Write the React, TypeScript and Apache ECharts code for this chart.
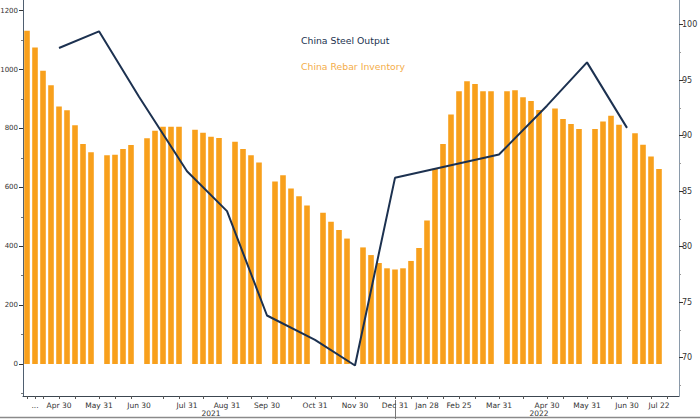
import React, { useEffect, useRef } from 'react';
import * as echarts from 'echarts';

// weekly slots (Fridays) plus the month-end dates where only the monthly series reports
const weeks = [
  '2021-04-02', '2021-04-09', '2021-04-16', '2021-04-23', '2021-04-30', '2021-05-07', '2021-05-14', '2021-05-21', '2021-05-28', '2021-05-31',
  '2021-06-04', '2021-06-11', '2021-06-18', '2021-06-25', '2021-06-30', '2021-07-02', '2021-07-09', '2021-07-16', '2021-07-23', '2021-07-30',
  '2021-07-31', '2021-08-06', '2021-08-13', '2021-08-20', '2021-08-27', '2021-08-31', '2021-09-03', '2021-09-10', '2021-09-17', '2021-09-24',
  '2021-09-30', '2021-10-01', '2021-10-08', '2021-10-15', '2021-10-22', '2021-10-29', '2021-10-31', '2021-11-05', '2021-11-12', '2021-11-19',
  '2021-11-26', '2021-11-30', '2021-12-03', '2021-12-10', '2021-12-17', '2021-12-24', '2021-12-31', '2022-01-07', '2022-01-14', '2022-01-21',
  '2022-01-28', '2022-02-04', '2022-02-11', '2022-02-18', '2022-02-25', '2022-03-04', '2022-03-11', '2022-03-18', '2022-03-25', '2022-03-31',
  '2022-04-01', '2022-04-08', '2022-04-15', '2022-04-22', '2022-04-29', '2022-04-30', '2022-05-06', '2022-05-13', '2022-05-20', '2022-05-27',
  '2022-05-31', '2022-06-03', '2022-06-10', '2022-06-17', '2022-06-24', '2022-06-30', '2022-07-01', '2022-07-08', '2022-07-15', '2022-07-22',
  '2022-07-29', '2022-07-31',
];

// China rebar inventory (10k tonnes), null where the slot is a month-end only
const rebarInventory = [
  1132, 1075, 996, 947, 875, 862, 811, 747, 719, null,
  709, 711, 730, 744, null, 767, 792, 806, 806, 806,
  null, 796, 785, 772, 768, null, 755, 730, 709, 684,
  null, 620, 641, 596, 570, 538, null, 514, 483, 455,
  426, null, 396, 370, 343, 325, 321, 325, 350, 394,
  487, 663, 747, 847, 926, 960, 951, 926, 926, null,
  926, 930, 906, 893, 863, null, 868, 832, 815, 798,
  null, 798, 824, 843, 813, null, 784, 745, 705, 662,
  null, null,
];

// China steel output (monthly, mn tonnes)
const outputDates = [
  '2021-04-30', '2021-05-31', '2021-06-30', '2021-07-31', '2021-08-31', '2021-09-30', '2021-10-31',
  '2021-11-30', '2021-12-31', '2022-03-31', '2022-04-30', '2022-05-31', '2022-06-30',
];
const outputValues = [97.9, 99.4, 93.5, 86.8, 83.2, 73.8, 71.6, 69.3, 86.2, 88.3, 92.7, 96.6, 90.7];

const labelDates = [
  '2021-04-09', '2021-04-30', '2021-05-31', '2021-06-30', '2021-07-31', '2021-08-31', '2021-09-30', '2021-10-31',
  '2021-11-30', '2021-12-31', '2022-01-28', '2022-02-25', '2022-03-31', '2022-04-30', '2022-05-31', '2022-06-30', '2022-07-22',
];
const labelTexts = [
  '...', 'Apr 30', 'May 31', 'Jun 30', 'Jul 31', 'Aug 31', 'Sep 30', 'Oct 31',
  'Nov 30', 'Dec 31', 'Jan 28', 'Feb 25', 'Mar 31', 'Apr 30', 'May 31', 'Jun 30', 'Jul 22',
];

// small ticks: month ends and mid-month
const tickDates = [
  '2021-04-02', '2021-04-09', '2021-04-16', '2021-04-30', '2021-05-14', '2021-05-31', '2021-06-11', '2021-06-25',
  '2021-07-16', '2021-07-30', '2021-08-13', '2021-08-31', '2021-09-17', '2021-09-30', '2021-10-15', '2021-10-31',
  '2021-11-12', '2021-11-30', '2021-12-17', '2021-12-31', '2022-01-14', '2022-01-28', '2022-02-11', '2022-02-25',
  '2022-03-11', '2022-03-31', '2022-04-15', '2022-04-30', '2022-05-13', '2022-05-31', '2022-06-17', '2022-06-30',
  '2022-07-15', '2022-07-29',
];

const yearDates = ['2021-08-20', '2022-04-29'];
const yearTexts = ['2021', '2022'];
const yearBreak = '2021-12-31';

const leftTicks = [0, 200, 400, 600, 800, 1000, 1200];
const leftMinor = [-100, 100, 300, 500, 700, 900, 1100];
const rightTicks = [70, 75, 80, 85, 90, 95, 100];
const rightMinor = [67.5, 72.5, 77.5, 82.5, 87.5, 92.5, 97.5];

const ORANGE = '#f8a01c';
const NAVY = '#1c3150';
const FONT = 'DejaVu Sans';

export default function App() {
  const ref = useRef<HTMLDivElement>(null);
  useEffect(() => {
    document.body.style.margin = '0';
    if (!ref.current) return;
    const chart = echarts.init(ref.current, null, { renderer: 'svg' });

    const outputSeries = weeks.map((d) => {
      const i = outputDates.indexOf(d);
      return i >= 0 ? outputValues[i] : null;
    });
    const labelFor = (d: string) => {
      const i = labelDates.indexOf(d);
      return i >= 0 ? labelTexts[i] : '';
    };
    const yearFor = (d: string) => {
      const i = yearDates.indexOf(d);
      return i >= 0 ? yearTexts[i] : '';
    };

    chart.setOption({
      animation: false,
      textStyle: { fontFamily: FONT },
      grid: { left: 23, right: 21, top: 0, bottom: 23, outerBoundsMode: 'none' },
      legend: {
        orient: 'vertical',
        left: 291,
        top: 30,
        icon: 'none',
        itemWidth: 0,
        itemHeight: 11,
        itemGap: 16,
        selectedMode: false,
        data: [
          { name: 'China Steel Output', textStyle: { color: NAVY } },
          { name: 'China Rebar Inventory', textStyle: { color: '#f4ad4a' } },
        ],
        textStyle: { fontSize: 9.3, fontFamily: FONT },
      },
      xAxis: [
        {
          type: 'category',
          data: weeks,
          boundaryGap: true,
          axisLine: { show: true, onZero: false, lineStyle: { color: '#3c4650', width: 1 } },
          axisTick: {
            show: true,
            alignWithLabel: true,
            length: 3,
            interval: (i: number, v: string) => tickDates.indexOf(v) >= 0,
            lineStyle: { color: '#555' },
          },
          axisLabel: {
            interval: 0,
            margin: 5,
            fontSize: 7.5,
            color: '#333',
            formatter: (v: string) => labelFor(v),
          },
        },
        {
          type: 'category',
          data: weeks,
          position: 'bottom',
          offset: 4,
          axisLine: { show: false, onZero: false },
          axisTick: {
            show: true,
            alignWithLabel: true,
            length: 19,
            interval: (i: number, v: string) => v === yearBreak,
            lineStyle: { color: '#777' },
          },
          axisLabel: {
            interval: 0,
            margin: 9,
            fontSize: 7.5,
            color: '#333',
            formatter: (v: string) => yearFor(v),
          },
        },
      ],
      yAxis: [
        {
          type: 'value',
          position: 'left',
          min: -108.7,
          max: 1236.3,
          splitLine: { show: false },
          axisLine: { show: true, lineStyle: { color: '#4f5f70' } },
          axisTick: { show: true, length: 4, customValues: leftTicks, lineStyle: { color: '#333' } },
          axisLabel: {
            customValues: leftTicks,
            margin: 5,
            fontSize: 7,
            color: '#333',
            formatter: (v: number) => String(v),
          },
        },
        {
          type: 'value',
          position: 'right',
          min: 66.55,
          max: 102.22,
          splitLine: { show: false },
          axisLine: { show: true, lineStyle: { color: '#8a9aaa' } },
          axisTick: { show: true, length: 4, customValues: rightTicks, lineStyle: { color: '#333' } },
          axisLabel: {
            customValues: rightTicks,
            margin: 3,
            fontSize: 8,
            color: '#333',
            formatter: (v: number) => String(v),
          },
        },
        {
          type: 'value',
          position: 'left',
          min: -108.7,
          max: 1236.3,
          splitLine: { show: false },
          axisLine: { show: false },
          axisTick: { show: true, length: 2, customValues: leftMinor, lineStyle: { color: '#777' } },
          axisLabel: { show: false },
        },
        {
          type: 'value',
          position: 'right',
          min: 66.55,
          max: 102.22,
          splitLine: { show: false },
          axisLine: { show: false },
          axisTick: { show: true, length: 2, customValues: rightMinor, lineStyle: { color: '#999' } },
          axisLabel: { show: false },
        },
      ],
      series: [
        {
          name: 'China Rebar Inventory',
          type: 'bar',
          xAxisIndex: 0,
          yAxisIndex: 0,
          data: rebarInventory,
          barWidth: '70%',
          itemStyle: { color: ORANGE },
          z: 2,
        },
        {
          name: 'China Steel Output',
          type: 'line',
          xAxisIndex: 0,
          yAxisIndex: 1,
          data: outputSeries,
          connectNulls: true,
          showSymbol: false,
          symbol: 'none',
          lineStyle: { color: NAVY, width: 2 },
          itemStyle: { color: NAVY },
          z: 3,
        },
      ],
      graphic: [
        {
          type: 'line',
          shape: { x1: 0, y1: 417.5, x2: 700, y2: 417.5 },
          style: { stroke: '#8a8a8a', lineWidth: 1.5 },
          silent: true,
        },
      ],
    });
    return () => {
      chart.dispose();
    };
  }, []);
  return <div ref={ref} style={{ width: 700, height: 419 }} />;
}
